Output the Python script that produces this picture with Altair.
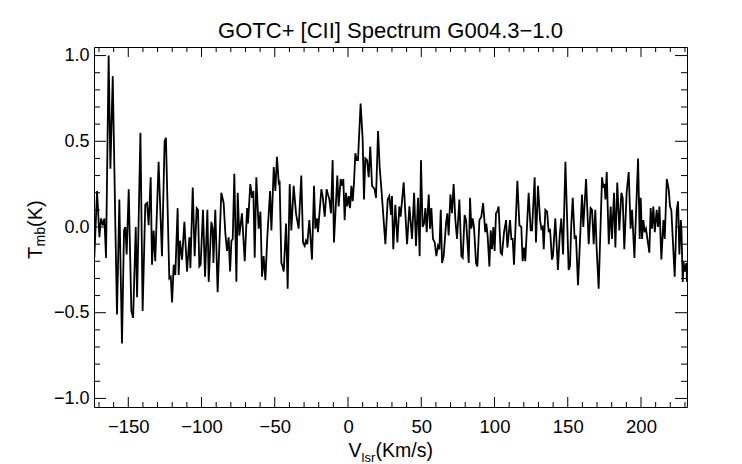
import altair as alt
import pandas as pd

# ---- spectrum (V_lsr in km/s, T_mb in K) ----
velocity_a = [-173.2, -171.3, -169.7, -168.6, -167.4, -166.3, -165.2, -163.4, -162.2, -160.6,
              -158.8, -157.7, -156.1, -154.3, -152.9, -152.0, -151.1, -149.7, -147.9, -146.7,
              -144.9, -144.0, -141.7, -140.2, -138.4, -137.2, -136.1, -134.7, -133.8, -132.7,
              -131.6, -129.3, -127.0, -125.2, -124.3, -122.0, -121.0, -120.1, -119.0, -117.9,
              -116.3, -115.6, -114.7, -113.3, -111.7, -109.9, -108.3, -107.6, -106.0]
tmb_a = [-0.18, 0.21, -0.06, 0.05, 0.01, 0.05, -0.18, 1.0, 0.34, 0.88,
         0.0, -0.51, 0.16, -0.68, -0.02, 0.0, -0.16, 0.22, -0.49, -0.53,
         0.0, -0.41, 0.55, -0.49, 0.13, 0.14, 0.01, 0.29, -0.22, -0.02,
         -0.20, 0.38, -0.17, 0.50, 0.52, -0.30, -0.29, -0.44, -0.22, -0.28,
         0.11, -0.28, -0.08, -0.19, 0.03, -0.26, -0.06, -0.24, 0.23]

velocity_b = [-104.7, -103.3, -102.4, -101.5, -100.6, -99.0, -97.6, -96.0, -95.1, -93.3,
              -92.4, -91.9, -90.6, -89.0, -86.5, -84.9, -83.8, -82.6, -81.5, -80.5,
              -79.6, -78.7, -77.6, -76.2, -75.3, -74.2, -72.4, -70.5, -68.9, -68.3,
              -66.7, -65.5, -64.6, -63.7, -62.6, -61.0, -59.8, -58.7, -57.6, -56.4,
              -55.1, -53.2, -52.3, -50.7, -49.6, -48.5, -47.3, -46.7, -45.5, -44.6,
              -43.9, -42.3, -41.2, -39.8, -38.7, -37.1]
tmb_b = [-0.17, 0.11, 0.10, -0.23, -0.22, 0.10, -0.29, 0.10, -0.32, 0.03,
         -0.01, -0.21, 0.10, -0.38, 0.20, 0.14, -0.03, -0.14, -0.06, -0.26,
         -0.08, -0.07, 0.31, -0.32, 0.20, -0.05, 0.08, -0.20, 0.11, 0.02,
         0.25, 0.17, 0.21, -0.18, 0.29, -0.01, 0.09, -0.29, -0.17, -0.31,
         -0.06, 0.21, -0.02, 0.35, 0.21, 0.41, 0.26, 0.27, -0.21, -0.23,
         -0.26, 0.02, -0.36, 0.25, -0.02, 0.24]

velocity_c = [-35.5, -33.7, -31.9, -30.7, -29.6, -28.7, -27.8, -26.4, -24.6, -23.2,
              -22.3, -21.2, -20.5, -18.2, -17.3, -15.9, -14.6, -13.7, -12.7, -11.6,
              -10.5, -9.6, -7.3, -6.4, -5.0, -4.1, -3.2, -2.3, -1.4, -0.5,
              0.5, 1.4, 2.3, 3.2, 4.1, 5.0, 5.9, 6.8, 8.6, 10.0,
              10.9, 11.8, 13.0, 14.1, 15.2, 16.4, 17.3, 18.2, 19.1, 20.5,
              21.6, 22.8, 25.5, 27.1, 28.2, 29.4]
tmb_c = [0.08, -0.01, 0.30, -0.09, -0.11, -0.08, -0.10, 0.04, -0.19, 0.24,
         -0.01, 0.05, -0.03, 0.22, 0.18, 0.06, 0.22, 0.19, 0.16, 0.08,
         0.39, -0.09, 0.30, 0.12, 0.28, 0.24, 0.28, 0.04, 0.20, 0.12,
         0.18, 0.11, 0.24, 0.15, 0.26, 0.43, 0.39, 0.39, 0.72, 0.51,
         0.16, 0.40, 0.39, 0.29, 0.47, 0.24, 0.23, 0.22, 0.17, 0.56,
         0.35, 0.22, -0.10, 0.16, 0.18, 0.07]

velocity_d = [30.0, 30.9, 32.3, 33.7, 35.0, 35.9, 38.0, 40.3, 41.9, 43.7,
              45.1, 46.4, 47.8, 48.9, 49.8, 50.9, 51.9, 52.8, 53.7, 55.1,
              56.0, 56.9, 58.0, 59.2, 60.3, 61.4, 62.4, 63.3, 64.2, 65.3,
              66.9, 67.8, 68.7, 69.9, 71.0, 72.1, 73.3, 74.4, 76.0, 77.4,
              78.3, 79.6, 80.6, 82.4, 83.3, 84.2, 85.1, 86.0, 87.4, 88.3,
              89.7, 91.0, 92.2, 93.7, 94.4, 95.3, 96.5, 97.4]
tmb_d = [0.18, -0.13, 0.13, -0.09, 0.12, 0.06, 0.26, -0.10, 0.12, -0.07,
         0.20, -0.11, 0.17, -0.17, 0.39, 0.00, 0.02, 0.11, -0.03, 0.19,
         -0.01, 0.11, -0.07, -0.09, -0.17, -0.11, -0.13, 0.10, -0.21, -0.17,
         0.02, 0.08, -0.05, 0.19, 0.08, 0.25, 0.04, -0.07, 0.16, -0.17,
         -0.18, 0.07, 0.04, -0.21, 0.17, -0.01, 0.05, 0.00, -0.21, -0.23,
         0.04, 0.06, 0.14, -0.03, 0.02, -0.05, -0.23, -0.02]

velocity_e = [98.3, 99.2, 100.1, 101.0, 101.9, 102.8, 104.2, 105.1, 106.5, 107.9,
              108.8, 110.6, 111.5, 112.4, 113.3, 115.6, 117.0, 118.3, 119.2, 120.1,
              121.0, 123.3, 124.7, 125.6, 127.4, 128.3, 129.7, 131.1, 132.0, 132.9,
              133.6, 134.7, 135.9, 137.0, 137.9, 139.2, 139.9, 141.5, 143.3, 144.5,
              145.6, 146.8, 148.4, 150.6, 151.5, 152.4, 153.4, 154.7, 155.6, 157.0,
              157.9, 159.7, 160.6, 162.5, 164.3, 165.6]
tmb_e = [-0.13, 0.00, -0.14, 0.08, 0.09, 0.12, -0.15, -0.16, -0.03, 0.04,
         -0.12, 0.04, -0.07, -0.07, -0.22, 0.27, 0.01, 0.00, -0.20, -0.12,
         -0.20, 0.20, -0.02, -0.02, 0.29, -0.09, 0.24, 0.04, -0.01, 0.00,
         -0.13, 0.10, 0.09, -0.03, -0.01, -0.19, -0.17, 0.05, -0.25, -0.05,
         0.05, -0.16, 0.38, -0.25, -0.23, 0.01, 0.17, -0.07, -0.05, -0.34,
         -0.17, 0.19, 0.00, 0.28, -0.10, 0.11]

velocity_f = [166.6, 167.7, 168.8, 169.7, 171.1, 173.4, 174.3, 175.2, 175.7, 176.6,
              178.0, 179.3, 180.2, 181.6, 182.5, 183.8, 185.2, 186.6, 187.5, 188.6,
              190.2, 191.6, 192.9, 193.9, 195.5, 196.6, 198.0, 199.1, 199.8, 200.7,
              201.6, 202.5, 203.4, 205.7, 206.6, 207.5, 208.4, 209.4, 210.7, 211.6,
              212.6, 213.9, 215.3, 216.2, 217.6, 218.9, 219.8, 220.7, 223.0, 224.4,
              225.3, 226.2, 227.2, 227.6, 228.5, 229.0, 229.9, 231.0, 231.4]
tmb_f = [0.10, -0.10, 0.10, -0.12, -0.36, 0.29, 0.23, 0.25, 0.16, 0.32,
         -0.10, 0.12, -0.07, 0.20, -0.12, 0.26, -0.02, 0.20, 0.17, -0.13,
         0.20, 0.32, -0.01, 0.10, -0.18, 0.08, 0.40, -0.07, 0.17, -0.07,
         0.04, -0.03, -0.01, -0.15, 0.11, -0.01, 0.12, -0.03, 0.10, 0.00,
         0.12, -0.19, 0.04, -0.07, 0.28, 0.22, 0.12, 0.10, -0.29, 0.10,
         0.15, -0.16, 0.04, -0.01, -0.32, -0.20, -0.26, -0.21, -0.32]

# ---- axis tick values ----
x_major_ticks = [-150, -100, -50, 0, 50, 100, 150, 200]
x_minor_ticks = [-170, -160, -140, -130, -120, -110, -90, -80, -70, -60, -40, -30, -20, -10,
                 10, 20, 30, 40, 60, 70, 80, 90, 110, 120, 130, 140, 160, 170, 180, 190,
                 210, 220, 230]
y_major_ticks = [-1.0, -0.5, 0.0, 0.5, 1.0]
y_minor_ticks = [-0.9, -0.8, -0.7, -0.6, -0.4, -0.3, -0.2, -0.1,
                 0.1, 0.2, 0.3, 0.4, 0.6, 0.7, 0.8, 0.9]

x_domain = [-173.4, 231.4]
y_domain = [-1.05, 1.05]

title_text = "GOTC+ [CII] Spectrum G004.3\u22121.0"

velocity = velocity_a + velocity_b + velocity_c + velocity_d + velocity_e + velocity_f
tmb = tmb_a + tmb_b + tmb_c + tmb_d + tmb_e + tmb_f
n = min(len(velocity), len(tmb))
df = pd.DataFrame({"v": velocity[:n], "t": tmb[:n]})

FONT = "Liberation Sans"
W, H = 593, 360

xscale = alt.Scale(domain=x_domain, nice=False, zero=False)
yscale = alt.Scale(domain=y_domain, nice=False, zero=False)

x_axis = alt.Axis(values=x_major_ticks, title=None, ticks=False, tickSize=0,
                  domain=False, grid=False, labelFont=FONT, labelFontSize=18.5,
                  labelColor="black", labelPadding=10, labelFlush=False,
                  labelOverlap=False, format="d")
y_axis = alt.Axis(values=y_major_ticks, title=None, ticks=False, tickSize=0,
                  domain=False, grid=False, labelFont=FONT, labelFontSize=18,
                  labelColor="black", labelPadding=5, labelFlush=False,
                  labelOverlap=False, format=".1f")

line = alt.Chart(df).mark_line(color="black", strokeWidth=1.8, clip=True).encode(
    x=alt.X("v:Q", scale=xscale, axis=x_axis),
    y=alt.Y("t:Q", scale=yscale, axis=y_axis),
)


def xticks(vals, length):
    d = pd.DataFrame({"v": vals})
    bottom = alt.Chart(d).mark_rule(color="black", strokeWidth=1).encode(
        x=alt.X("v:Q", scale=xscale, axis=x_axis), y=alt.value(H), y2=alt.value(H - length))
    top = alt.Chart(d).mark_rule(color="black", strokeWidth=1).encode(
        x=alt.X("v:Q", scale=xscale, axis=x_axis), y=alt.value(0), y2=alt.value(length))
    return [bottom, top]


def yticks(vals, length):
    d = pd.DataFrame({"t": vals})
    left = alt.Chart(d).mark_rule(color="black", strokeWidth=1).encode(
        y=alt.Y("t:Q", scale=yscale, axis=y_axis), x=alt.value(0), x2=alt.value(length))
    right = alt.Chart(d).mark_rule(color="black", strokeWidth=1).encode(
        y=alt.Y("t:Q", scale=yscale, axis=y_axis), x=alt.value(W), x2=alt.value(W - length))
    return [left, right]


def label(text, x, y, size, angle=0, align="left", baseline="alphabetic"):
    return alt.Chart(alt.Data(values=[{}])).mark_text(
        text=text, font=FONT, fontSize=size, color="black", align=align,
        baseline=baseline, angle=angle).encode(x=alt.value(x), y=alt.value(y))


texts = [
    label(title_text, W / 2, -8.7, 22, align="center"),
    label("V", 254.5, 410, 19.5),
    label("lsr", 267.5, 414.5, 13),
    label("(Km/s)", 281.5, 410, 19.5),
    label("T", -52, 212, 20, angle=270),
    label("mb", -49, 199.5, 14, angle=270),
    label("(K)", -52, 180, 20, angle=270),
]

layers = [line] + xticks(x_major_ticks, 10) + xticks(x_minor_ticks, 5) \
    + yticks(y_major_ticks, 12) + yticks(y_minor_ticks, 6) + texts

chart = alt.layer(*layers).properties(
    width=W, height=H,
    padding={"left": 86, "top": 39, "right": 47, "bottom": 57},
    autosize=alt.AutoSizeParams(type="none"),
    background="white",
).configure_view(stroke="black", strokeWidth=1)

chart.save("out.html", embed_options={"renderer": "svg", "actions": False})
